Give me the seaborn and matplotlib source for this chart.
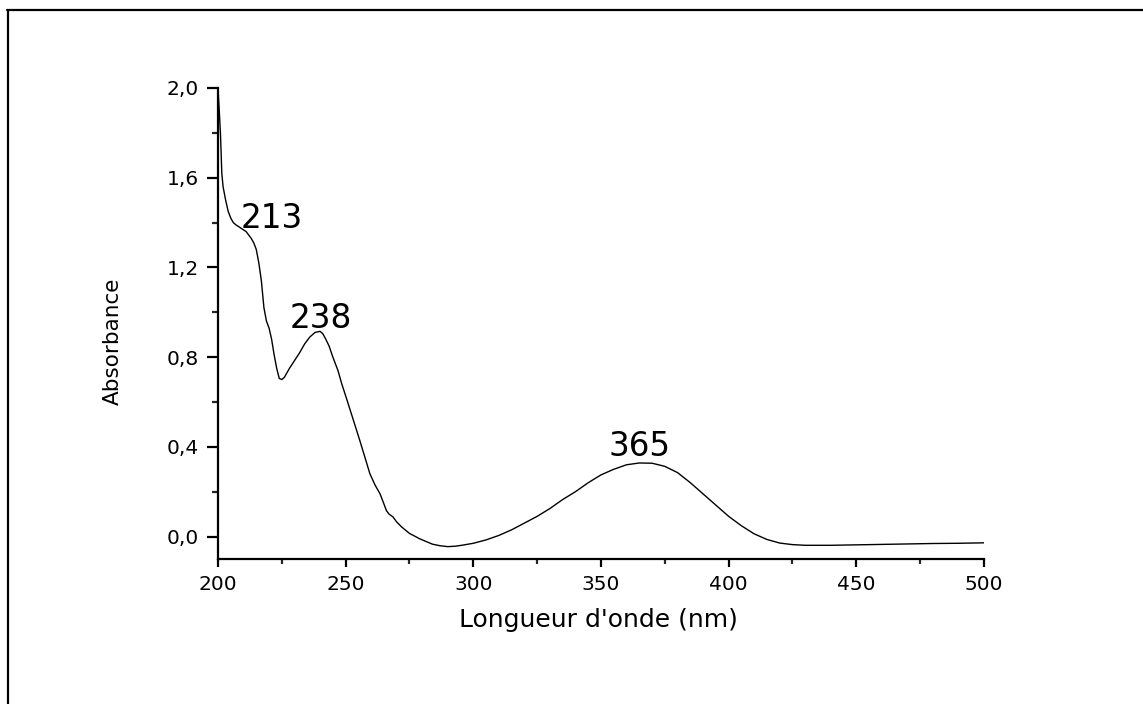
import matplotlib
matplotlib.use("Agg")
import matplotlib.pyplot as plt
from matplotlib.lines import Line2D
from matplotlib.ticker import MultipleLocator, FuncFormatter
import seaborn as sns
import pandas as pd

# UV-Vis absorption spectrum
wavelength = [
    200, 200.5, 201, 201.5, 202, 203, 204, 205, 206, 207, 209, 211, 213, 214,
    215, 216, 217, 218, 219, 220, 221, 222, 223, 224, 225, 226, 228, 230, 232,
    234, 236, 238, 240, 241, 242, 243.5, 245, 247, 248.5, 250.5, 253, 255.5,
    257.5, 259.5, 261.5, 263.5, 265, 266, 267, 268.5, 270, 272, 275, 279, 284,
    287, 290, 293, 296, 300, 305, 310, 315, 320, 325, 330, 335, 340, 345, 350,
    355, 360, 365, 370, 375, 380, 385, 390, 395, 400, 405, 410, 415, 420, 425,
    430, 440, 450, 460, 470, 480, 490, 500,
]
absorbance = [
    2.00, 1.90, 1.79, 1.62, 1.56, 1.50, 1.45, 1.42, 1.40, 1.39, 1.375, 1.36,
    1.33, 1.31, 1.28, 1.22, 1.14, 1.02, 0.96, 0.93, 0.88, 0.81, 0.75, 0.705,
    0.70, 0.71, 0.75, 0.785, 0.82, 0.86, 0.89, 0.91, 0.915, 0.905, 0.885, 0.85,
    0.80, 0.74, 0.68, 0.61, 0.52, 0.43, 0.355, 0.28, 0.23, 0.19, 0.145, 0.115,
    0.10, 0.088, 0.065, 0.042, 0.014, -0.01, -0.034, -0.041, -0.045, -0.043,
    -0.038, -0.030, -0.015, 0.005, 0.03, 0.06, 0.09, 0.125, 0.165, 0.20, 0.24,
    0.275, 0.30, 0.32, 0.328, 0.327, 0.313, 0.285, 0.24, 0.19, 0.14, 0.09,
    0.048, 0.012, -0.013, -0.029, -0.036, -0.039, -0.039, -0.037, -0.035,
    -0.033, -0.031, -0.030, -0.028,
]

# Band maxima labels
peak_labels = ["213", "238", "365"]
peak_x = [221.0, 240.3, 365.2]
peak_y = [1.375, 0.932, 0.357]

df = pd.DataFrame({"wavelength": wavelength, "absorbance": absorbance})

sns.set_style("ticks")
plt.rcParams["font.family"] = ["DejaVu Sans"]

fig = plt.figure(figsize=(11.43, 7.04), dpi=100)
ax = fig.add_axes([0.1907, 0.2060, 0.6702, 0.6690])

sns.lineplot(data=df, x="wavelength", y="absorbance", ax=ax, color="black",
             linewidth=1.0, sort=False, estimator=None)

ax.set_xlim(200, 500)
ax.set_ylim(-0.1, 2.0)

ax.xaxis.set_major_locator(MultipleLocator(50))
ax.xaxis.set_minor_locator(MultipleLocator(25))
ax.yaxis.set_major_locator(MultipleLocator(0.4))
ax.yaxis.set_minor_locator(MultipleLocator(0.2))
ax.yaxis.set_major_formatter(FuncFormatter(lambda v, p: f"{v:.1f}".replace(".", ",")))
ax.xaxis.set_major_formatter(FuncFormatter(lambda v, p: f"{v:.0f}"))

for side in ("top", "right"):
    ax.spines[side].set_visible(False)
for side in ("left", "bottom"):
    ax.spines[side].set_linewidth(1.6)
    ax.spines[side].set_color("black")

ax.tick_params(axis="x", which="major", direction="out", length=5.8, width=1.6,
               labelsize=14.5, pad=6, colors="black")
ax.tick_params(axis="x", which="minor", direction="out", length=3.6, width=1.6)
ax.tick_params(axis="y", which="major", direction="out", length=7.9, width=1.6,
               labelsize=14.5, pad=6, colors="black")
ax.tick_params(axis="y", which="minor", direction="out", length=4.3, width=1.6)

ax.set_xlabel("Longueur d'onde (nm)", fontsize=18, color="black")
ax.xaxis.set_label_coords(0.497, -0.105)
ax.set_ylabel("Absorbance", fontsize=15.5, color="black", va="center")
ax.yaxis.set_label_coords(-0.1377, 0.4618)

for txt, px, py in zip(peak_labels, peak_x, peak_y):
    ax.text(px, py, txt, ha="center", va="baseline", fontsize=23.5, color="black")

# Page frame: top and left rules
fig.add_artist(Line2D([0.0067, 0.0067], [0.0, 0.9851], transform=fig.transFigure,
                      color="black", linewidth=1.6))
fig.add_artist(Line2D([0.0058, 1.0], [0.9851, 0.9851], transform=fig.transFigure,
                      color="black", linewidth=1.6))

fig.savefig("out.png", dpi=100, facecolor="white")
